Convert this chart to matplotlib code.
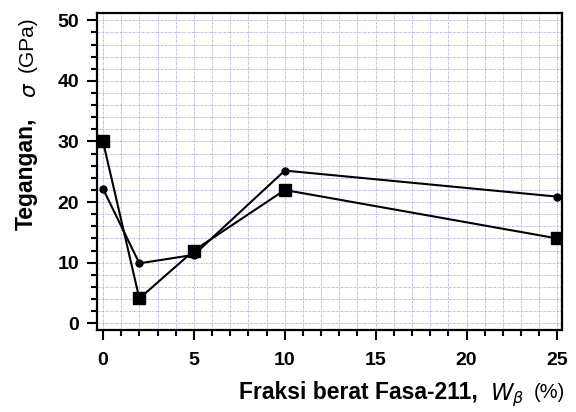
import numpy as np
import matplotlib
matplotlib.use("Agg")
import matplotlib.pyplot as plt
from matplotlib.ticker import MultipleLocator

plt.rcParams["font.family"] = ["Liberation Sans", "DejaVu Sans"]

# data
fraksi = [0, 2, 5, 10, 25]
tegangan_a = [22.2, 9.9, 11.3, 25.2, 20.9]   # circles
tegangan_b = [30.0, 4.1, 12.0, 22.0, 14.0]   # squares

fig = plt.figure(figsize=(5.76, 4.12), dpi=100)
ax = fig.add_axes([97 / 576, 1 - 330 / 412, (562 - 97) / 576, (330 - 13) / 412])

ax.set_xlim(-0.33, 25.25)
ax.set_ylim(-1.1, 51.2)

# dotted bluish grid at every minor tick
for xv in np.arange(0, 26, 1):
    ax.axvline(xv, color="#a4a4d4", lw=0.55, ls=(0, (2.5, 1.2, 1, 1.2)), zorder=0)
for yv in np.arange(0, 51, 2):
    ax.axhline(yv, color="#a4a4d4", lw=0.55, ls=(0, (2.5, 1.2, 1, 1.2)), zorder=0)

ax.plot(fraksi, tegangan_a, color="black", lw=1.5, marker="o", ms=5, zorder=3)
ax.plot(fraksi, tegangan_b, color="black", lw=1.5, marker="s", ms=8, zorder=3)

ax.xaxis.set_major_locator(MultipleLocator(5))
ax.xaxis.set_minor_locator(MultipleLocator(1))
ax.yaxis.set_major_locator(MultipleLocator(10))
ax.yaxis.set_minor_locator(MultipleLocator(2))
ax.tick_params(which="both", direction="out", width=1.5, color="black")
ax.tick_params(which="major", length=7, labelsize=14)
ax.tick_params(axis="x", which="major", pad=9)
ax.tick_params(axis="y", which="major", pad=6)
ax.tick_params(which="minor", length=4.5)
for lbl in ax.get_xticklabels() + ax.get_yticklabels():
    lbl.set_fontweight("bold")
for s in ax.spines.values():
    s.set_linewidth(1.6)

# y label pieces
fig.text(26 / 576, 1 - 174 / 412, "Tegangan,", rotation=90, fontsize=16.5,
         fontweight="bold", ha="center", va="center")
fig.text(30 / 576, 1 - 90 / 412, r"$\sigma$", rotation=90, fontsize=15.5,
         ha="center", va="center")
fig.text(27 / 576, 1 - 44 / 412, "(GPa)", rotation=90, fontsize=15,
         ha="center", va="center")

# x label pieces
fig.text(358 / 576, 1 - 392 / 412, "Fraksi berat Fasa-211,", fontsize=16.5,
         fontweight="bold", ha="center", va="center")
fig.text(507 / 576, 1 - 395 / 412, r"$W_{\beta}$", fontsize=16.5,
         ha="center", va="center")
fig.text(549 / 576, 1 - 392 / 412, "(%)", fontsize=14.5,
         ha="center", va="center")

fig.savefig("out.png", dpi=100)
